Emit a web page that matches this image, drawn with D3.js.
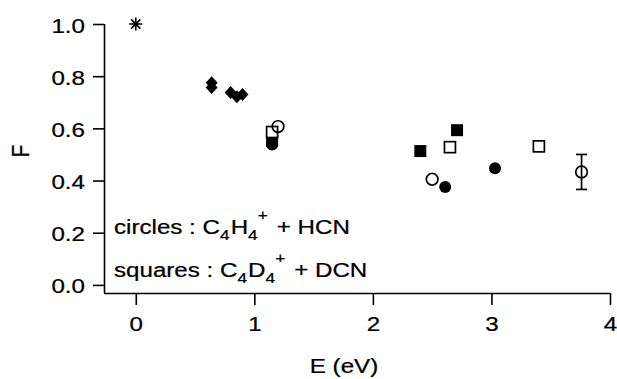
<!DOCTYPE html>
<html>
<head>
<meta charset="utf-8">
<script src="https://cdn.jsdelivr.net/npm/d3@7"></script>
<style>
  body { margin: 0; background: #fff; }
  text { font-family: "Liberation Sans", Arial, Helvetica, sans-serif; fill: #000; }
</style>
</head>
<body>
<div id="chart"></div>
<script>
// data (E in eV, F fraction)
var starE = [0], starF = [1.0];
var diamondE = [0.64, 0.64, 0.80, 0.853, 0.90];
var diamondF = [0.775, 0.757, 0.737, 0.721, 0.730];
var openCircleE = [1.20, 2.50, 3.76];
var openCircleF = [0.607, 0.405, 0.433];
var openCircleErr = [0, 0, 0.067];
var filledCircleE = [1.15, 2.61, 3.03];
var filledCircleF = [0.538, 0.375, 0.447];
var openSquareE = [1.15, 2.65, 3.40];
var openSquareF = [0.586, 0.528, 0.531];
var filledSquareE = [1.15, 2.40, 2.71];
var filledSquareF = [0.552, 0.513, 0.593];
var xTicks = [0, 1, 2, 3, 4];
var yTicks = [0.0, 0.2, 0.4, 0.6, 0.8, 1.0];

var width = 617, height = 379;
var margin = {top: 24, right: 7, bottom: 86, left: 104};
var sx = 1.15; // picture is stretched horizontally, text too

var x = d3.scaleLinear().domain([-0.268, 4]).range([margin.left, width - margin.right]);
var y = d3.scaleLinear().domain([-0.031, 1.0]).range([height - margin.bottom, margin.top]);

var svg = d3.select("#chart").append("svg")
    .attr("width", width)
    .attr("height", height);

function zip(a, b, c) {
  return a.map(function (v, i) { return {e: v, f: b[i], err: c ? c[i] : 0}; });
}

// axes
var xAxis = svg.append("g")
    .attr("transform", "translate(0," + (height - margin.bottom) + ")")
    .call(d3.axisBottom(x).tickValues(xTicks).tickSize(12).tickPadding(6).tickFormat(d3.format("d")));
var yAxis = svg.append("g")
    .attr("transform", "translate(" + margin.left + ",0)")
    .call(d3.axisLeft(y).tickValues(yTicks).tickSize(11).tickPadding(8).tickFormat(d3.format(".1f")));

[xAxis, yAxis].forEach(function (g) {
  g.select(".domain").attr("stroke", "#000").attr("stroke-width", 1.6)
  g.selectAll(".tick line").attr("stroke", "#000").attr("stroke-width", 1.6);
  g.selectAll(".tick text").attr("font-size", 21).attr("fill", "#000")
    .attr("stroke", "#000").attr("stroke-width", 0.25);
});
// strip the outer ticks of the domain path
xAxis.select(".domain").attr("d", "M" + x.range()[0] + ",0.5H" + x.range()[1]);
yAxis.select(".domain").attr("d", "M0.5," + y.range()[0] + "V" + y.range()[1]);

// horizontal stretch of tick labels
xAxis.selectAll(".tick text").each(function () {
  var t = d3.select(this);
  var yy = +t.attr("y");
  t.attr("y", null).attr("dy", null)
    .attr("transform", "translate(0," + (yy + 20) + ") scale(" + sx + ",1)");
});
yAxis.selectAll(".tick text").each(function () {
  var t = d3.select(this);
  var xx = +t.attr("x");
  t.attr("x", null).attr("dy", null)
    .attr("transform", "translate(" + xx + ",8) scale(" + sx + ",1)");
});

// axis titles
svg.append("text")
    .attr("transform", "translate(344,373) scale(" + sx + ",1)")
    .attr("text-anchor", "middle")
    .attr("font-size", 21)
    .attr("stroke", "#000").attr("stroke-width", 0.25)
    .text("E (eV)");
svg.append("text")
    .attr("transform", "translate(29,151) scale(" + sx + ",1) rotate(-90)")
    .attr("text-anchor", "middle")
    .attr("font-size", 21)
    .attr("stroke", "#000").attr("stroke-width", 0.25)
    .text("F");

// legend text with sub/superscripts
function formula(yPos, parts) {
  var t = svg.append("text")
      .attr("transform", "translate(114," + yPos + ") scale(" + sx + ",1)")
      .attr("font-size", 21)
      .attr("stroke", "#000").attr("stroke-width", 0.25);
  parts.forEach(function (p) {
    var s = t.append("tspan").text(p[0]);
    if (p[1] === "sub") s.attr("font-size", 15).attr("dy", 6);
    else if (p[1] === "sup") s.attr("font-size", 15).attr("dy", -20);
    else if (p[1] === "back") s.attr("dy", p[2]);
    if (p[3]) s.attr("dx", p[3]);
  });
}
formula(234, [["circles : C"], ["4", "sub"], ["H", "back", -6, 1], ["4", "sub"], ["+", "sup", 0], [" + HCN", "back", 14, 2]]);
formula(277, [["squares : C"], ["4", "sub"], ["D", "back", -6, 1], ["4", "sub"], ["+", "sup", 0], [" + DCN", "back", 14, 2]]);

var pts = svg.append("g");

// error bars
var errData = zip(openCircleE, openCircleF, openCircleErr).filter(function (d) { return d.err > 0; });
errData.forEach(function (d) {
  var g = pts.append("g").attr("stroke", "#000").attr("stroke-width", 1.7);
  g.append("line").attr("x1", x(d.e)).attr("x2", x(d.e)).attr("y1", y(d.f - d.err)).attr("y2", y(d.f + d.err));
  g.append("line").attr("x1", x(d.e) - 5.5).attr("x2", x(d.e) + 5.5).attr("y1", y(d.f - d.err)).attr("y2", y(d.f - d.err));
  g.append("line").attr("x1", x(d.e) - 5.5).attr("x2", x(d.e) + 5.5).attr("y1", y(d.f + d.err)).attr("y2", y(d.f + d.err));
});

// filled squares
pts.selectAll(".fsq").data(zip(filledSquareE, filledSquareF)).enter().append("rect")
    .attr("x", function (d) { return x(d.e) - 6; })
    .attr("y", function (d) { return y(d.f) - 6; })
    .attr("width", 12).attr("height", 12)
    .attr("fill", "#000");

// open squares
pts.selectAll(".osq").data(zip(openSquareE, openSquareF)).enter().append("rect")
    .attr("x", function (d) { return x(d.e) - 5.5; })
    .attr("y", function (d) { return y(d.f) - 5.5; })
    .attr("width", 11).attr("height", 11)
    .attr("fill", "#fff").attr("stroke", "#000").attr("stroke-width", 1.7);

// filled circles
pts.selectAll(".fci").data(zip(filledCircleE, filledCircleF)).enter().append("circle")
    .attr("cx", function (d) { return x(d.e); })
    .attr("cy", function (d) { return y(d.f); })
    .attr("r", 6)
    .attr("fill", "#000");

// open circles
pts.selectAll(".oci").data(zip(openCircleE, openCircleF)).enter().append("circle")
    .attr("cx", function (d) { return x(d.e); })
    .attr("cy", function (d) { return y(d.f); })
    .attr("r", 5.8)
    .attr("fill", "none").attr("stroke", "#000").attr("stroke-width", 1.7);

// diamonds
pts.selectAll(".dia").data(zip(diamondE, diamondF)).enter().append("path")
    .attr("d", function (d) {
      var cx = x(d.e), cy = y(d.f);
      return "M" + cx + "," + (cy - 6.5) + "L" + (cx + 6) + "," + cy + "L" + cx + "," + (cy + 6.5) + "L" + (cx - 6) + "," + cy + "Z";
    })
    .attr("fill", "#000");

// asterisk
pts.selectAll(".star").data(zip(starE, starF)).enter().append("path")
    .attr("d", function (d) {
      var cx = x(d.e), cy = y(d.f), r = 6.5, s = "";
      for (var k = 0; k < 4; k++) {
        var a = k * Math.PI / 4;
        s += "M" + (cx - r * Math.cos(a)) + "," + (cy - r * Math.sin(a)) + "L" + (cx + r * Math.cos(a)) + "," + (cy + r * Math.sin(a));
      }
      return s;
    })
    .attr("stroke", "#000").attr("stroke-width", 1.6).attr("fill", "none");
</script>
</body>
</html>
